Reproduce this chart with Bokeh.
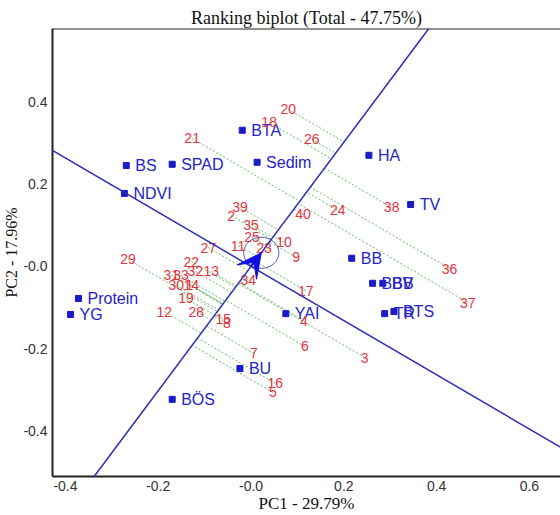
import numpy as np
from bokeh.plotting import figure
from bokeh.models import (Range1d, FixedTicker, Slope, Arrow, VeeHead,
                          Span, ColumnDataSource)
from bokeh.core.properties import value
from bokeh.embed import file_html
from bokeh.resources import INLINE

# ---------------- data ----------------
genotypes = [str(i) for i in range(1, 41)]
g_pc1 = [-0.133, -0.043, 0.245, 0.114, 0.047, 0.116, 0.006, -0.052, 0.097, 0.071,
         -0.028, -0.187, -0.086, -0.129, -0.060, 0.052, 0.118, 0.039, -0.140, 0.080,
         -0.127, -0.129, 0.028, 0.187, 0.002, 0.131, -0.092, -0.118, -0.265, -0.161,
         -0.172, -0.120, -0.151, -0.006, 0.000, 0.428, 0.467, 0.303, -0.024, 0.112]
g_pc2 = [-0.044, 0.124, -0.222, -0.132, -0.307, -0.195, -0.212, -0.139, 0.022, 0.059,
         0.051, -0.110, -0.012, -0.046, -0.129, -0.285, -0.059, 0.351, -0.078, 0.383,
         0.312, 0.012, 0.046, 0.137, 0.071, 0.310, 0.046, -0.110, 0.017, -0.046,
         -0.020, -0.012, -0.022, -0.032, 0.102, -0.005, -0.088, 0.144, 0.144, 0.127]

variables = ["BTA", "BS", "SPAD", "Sedim", "HA", "NDVI", "TV", "BB", "BBB", "BV",
             "TR", "BTS", "YAI", "Protein", "YG", "BU", "BÖS"]
v_pc1 = [-0.019, -0.269, -0.170, 0.013, 0.254, -0.273, 0.344, 0.217, 0.262, 0.284,
         0.288, 0.308, 0.075, -0.372, -0.389, -0.024, -0.170]
v_pc2 = [0.332, 0.246, 0.249, 0.254, 0.271, 0.178, 0.151, 0.020, -0.041, -0.041,
         -0.115, -0.110, -0.115, -0.078, -0.117, -0.249, -0.324]

average_env = [0.022, 0.0333]   # average environment coordinates (PC1, PC2)
circle_radius = 0.038

x_ticks = [-0.4, -0.2, 0.0, 0.2, 0.4, 0.6]
x_tick_labels = ["-0.4", "-0.2", "-0.0", "0.2", "0.4", "0.6"]
y_ticks = [-0.4, -0.2, 0.0, 0.2, 0.4]
y_tick_labels = ["-0.4", "-0.2", "-0.0", "0.2", "0.4"]

title_text = "Ranking biplot (Total - 47.75%)"
x_label = "PC1 - 29.79%"
y_label = "PC2 - 17.96%"

# ---------------- derived ----------------
ax, ay = average_env
norm = np.hypot(ax, ay)
ux, uy = ax / norm, ay / norm
gx = np.array(g_pc1)
gy = np.array(g_pc2)
proj = gx * ux + gy * uy
px = proj * ux
py = proj * uy

BLUE_LINE = "#2f2fb4"
BLUE_TXT = "#2424c8"
RED = "#e3353f"
GREEN = "#4caf50"

p = figure(width=560, height=515, x_range=Range1d(-0.428, 0.667),
           y_range=Range1d(-0.512, 0.58), output_backend="svg",
           toolbar_location=None, title=title_text,
           min_border_left=51, min_border_right=0, min_border_top=28,
           min_border_bottom=39)
p.outline_line_color = None
p.grid.visible = False
p.background_fill_color = "white"

p.title.text_font = "Liberation Serif"
p.title.text_font_size = "18px"
p.title.text_font_style = "normal"
p.title.text_color = "#111111"
p.title.align = "center"
p.title.standoff = 2

for ax_obj, ticks, labels in ((p.xaxis[0], x_ticks, x_tick_labels),
                              (p.yaxis[0], y_ticks, y_tick_labels)):
    ax_obj.ticker = FixedTicker(ticks=ticks)
    ax_obj.major_label_overrides = {t: l for t, l in zip(ticks, labels)}
    ax_obj.major_tick_line_color = None
    ax_obj.minor_tick_line_color = None
    ax_obj.major_tick_out = 0
    ax_obj.major_tick_in = 0
    ax_obj.minor_tick_out = 0
    ax_obj.axis_line_color = "#222222"
    ax_obj.axis_line_width = 2
    ax_obj.major_label_text_font = "Liberation Sans"
    ax_obj.major_label_text_font_size = "14px"
    ax_obj.major_label_text_color = "#333333"
    ax_obj.axis_label_text_font = "Liberation Serif"
    ax_obj.axis_label_text_font_style = "normal"
    ax_obj.axis_label_text_color = "#111111"
    ax_obj.axis_label_standoff = 0
p.xaxis[0].axis_label = x_label
p.yaxis[0].axis_label = y_label
p.xaxis[0].axis_label_text_font_size = "17px"
p.yaxis[0].axis_label_text_font_size = "16px"
p.xaxis[0].major_label_standoff = 4
p.yaxis[0].major_label_standoff = 5

p.add_layout(Span(location=0.58, dimension="width", line_color="#222222",
                  line_width=2))

# projection (dotted) lines
p.segment(x0=gx, y0=gy, x1=px, y1=py, line_color=GREEN, line_width=1,
          line_dash="2 2", line_alpha=0.85)

# AEC abscissa and ordinate
p.add_layout(Slope(gradient=ay / ax, y_intercept=0, line_color=BLUE_LINE,
                   line_width=1.5))
p.add_layout(Slope(gradient=-ax / ay, y_intercept=0, line_color=BLUE_LINE,
                   line_width=1.5))

# circle around average environment
p.ellipse(x=[ax], y=[ay], width=2 * circle_radius, height=2 * circle_radius,
          fill_color=None, line_color="#4a5cc0", line_width=1)

p.add_layout(Arrow(x_start=0, y_start=0, x_end=ax, y_end=ay,
                   line_color="#1010e0", line_width=2,
                   end=VeeHead(size=24, fill_color="#1010e0",
                               line_color="#1010e0")))

# variables
vsrc = ColumnDataSource(dict(x=v_pc1, y=v_pc2, t=variables))
p.scatter("x", "y", source=vsrc, marker="square", size=6, fill_color="#1a1ac8",
          line_color="#1a1ac8")
p.text("x", "y", text="t", source=vsrc, x_offset=9, text_align="left",
       text_baseline="middle", text_font=value("Liberation Sans"),
       text_font_size="16px", text_color=BLUE_TXT)

# genotypes
gsrc = ColumnDataSource(dict(x=g_pc1, y=g_pc2, t=genotypes))
p.text("x", "y", text="t", source=gsrc, text_align="center",
       text_baseline="middle", text_font=value("Liberation Sans"),
       text_font_size="14px", text_color=RED)

open("out.html", "w").write(file_html(p, INLINE))
